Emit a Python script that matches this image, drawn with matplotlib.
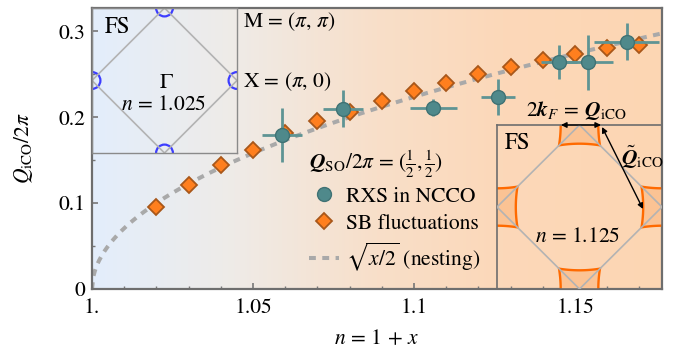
import numpy as np
import matplotlib
matplotlib.use("Agg")
import matplotlib.pyplot as plt
from matplotlib.colors import LinearSegmentedColormap
from matplotlib.lines import Line2D
from matplotlib.patches import Circle, Polygon

# ---------------- data ----------------
sb_n = [1.02, 1.03, 1.04, 1.05, 1.06, 1.07, 1.08, 1.09, 1.10, 1.11, 1.12, 1.13, 1.14, 1.15, 1.16, 1.17]
sb_q = [0.096, 0.121, 0.144, 0.162, 0.181, 0.195, 0.206, 0.219, 0.230, 0.240, 0.250, 0.258, 0.266, 0.274, 0.280, 0.284]

rxs_n = [1.059, 1.078, 1.106, 1.126, 1.145, 1.154, 1.166]
rxs_q = [0.179, 0.210, 0.211, 0.223, 0.264, 0.264, 0.288]
rxs_xerr = [0.0062, 0.0062, 0.0073, 0.0053, 0.0055, 0.0078, 0.0101]
rxs_yerr = [0.0316, 0.021, 0.0098, 0.021, 0.020, 0.032, 0.021]

xticks = [1.0, 1.05, 1.1, 1.15]
xticklabels = ["1.", "1.05", "1.1", "1.15"]
yticks = [0, 0.1, 0.2, 0.3]
yticklabels = ["0", "0.1", "0.2", "0.3"]
xlim = (1.0, 1.177)
ylim = (0.0, 0.327)

# ---------------- style ----------------
plt.rcParams['font.family'] = ['STIXGeneral', 'Liberation Serif', 'DejaVu Serif']
plt.rcParams['mathtext.fontset'] = 'custom'
plt.rcParams['mathtext.rm'] = 'STIXGeneral'
plt.rcParams['mathtext.it'] = 'STIXGeneral:italic'
plt.rcParams['mathtext.bf'] = 'STIXGeneral:italic:bold'
plt.rcParams['mathtext.fallback'] = 'stix'
plt.rcParams['font.size'] = 15

W, H = 684, 354
fig = plt.figure(figsize=(W / 100, H / 100), dpi=100)

def fx(px):
    return px / W

def fy(py):
    return 1 - py / H

ax = fig.add_axes([fx(92), fy(289), (662 - 92) / W, (289 - 8) / H])
ax.set_xlim(*xlim)
ax.set_ylim(*ylim)

# background gradient
cmap = LinearSegmentedColormap.from_list(
    "bg", [(0.0, "#e3eefc"), (0.25, "#efebe7"), (0.5, "#f8dfc9"),
           (0.72, "#fcd8b9"), (1.0, "#fdd6b3")])
grad = np.linspace(0, 1, 256)[None, :]
ax.imshow(grad, extent=[xlim[0], xlim[1], ylim[0], ylim[1]], aspect='auto',
          cmap=cmap, zorder=0, interpolation='bicubic')

# nesting curve sqrt(x/2)
xx = np.linspace(xlim[0], xlim[1], 400)
ax.plot(xx, np.sqrt((xx - 1) / 2), color='#a9a9a9', lw=2.9,
        dashes=(1.7, 1.6), zorder=2, solid_capstyle='butt')

# SB fluctuations
ax.plot(sb_n, sb_q, ls='none', marker='D', ms=8.0, mfc='#ff7f1e',
        mec='#a8571a', mew=1.3, zorder=3)

# RXS
ax.errorbar(rxs_n, rxs_q, xerr=rxs_xerr, yerr=rxs_yerr, fmt='o', ms=10,
            mfc='#4f898b', mec='#3f7274', mew=1.0, ecolor='#5e9494',
            elinewidth=2, capsize=0, zorder=4)

# ticks / spines
ax.set_xticks(xticks)
ax.set_xticklabels(xticklabels)
ax.set_yticks(yticks)
ax.set_yticklabels(yticklabels)
ax.set_xticks(np.arange(1.0, 1.1771, 0.01), minor=True)
ax.set_yticks([0.05, 0.15, 0.25], minor=True)
ax.tick_params(which='both', direction='in', color='#777777', top=False, right=False)
ax.tick_params(which='major', length=4, width=1.2, pad=5, labelsize=15.5)
ax.tick_params(axis='x', which='major', pad=7)
ax.tick_params(which='minor', length=2.5, width=1.0)
for s in ax.spines.values():
    s.set_color('#6e6e6e')
    s.set_linewidth(1.6)
    s.set_zorder(10)

ax.set_xlabel(r'$n\, =\, 1\, +\, x$', fontsize=15.5)
ax.xaxis.set_label_coords(0.5, -0.145)
ax.set_ylabel(r'$Q_{\rm iCO}/2\pi$', fontsize=15.5)
ax.yaxis.set_label_coords(-0.1, 0.5)

# legend
handles = [
    Line2D([], [], ls='none', marker='o', ms=10, mfc='#4f898b', mec='#3f7274', mew=1.0),
    Line2D([], [], ls='none', marker='D', ms=8.0, mfc='#ff7f1e', mec='#a8571a', mew=1.3),
    Line2D([], [], color='#a9a9a9', lw=2.9, dashes=(1.7, 1.6)),
]
labels = ['RXS in NCCO', 'SB fluctuations', r'$\sqrt{x/2}$ (nesting)']
leg = ax.legend(handles, labels,
                title=r'$\mathbf{Q}_{\rm SO}/2\pi\, =\, (\frac{1}{2}, \frac{1}{2})$',
                loc='upper left', bbox_to_anchor=(fx(298), fy(138)),
                bbox_transform=fig.transFigure, frameon=False, fontsize=15.5,
                title_fontsize=15.5, handlelength=1.4, handletextpad=0.35,
                labelspacing=0.32, borderpad=0, alignment='left')
leg.set_zorder(6)

# ---------------- inset 1 (n = 1.025) ----------------
in1 = fig.add_axes([fx(92), fy(153), 145 / W, 145 / H])
in1.set_facecolor('none')
in1.set_xlim(0, 1)
in1.set_ylim(0, 1)
in1.set_xticks([])
in1.set_yticks([])
for s in in1.spines.values():
    s.set_color('#8a8a8a')
    s.set_linewidth(1.0)
in1.plot([0.5, 0, 0.5, 1, 0.5], [1, 0.5, 0, 0.5, 1], color='#b3b3b3', lw=1.2)
for (cx, cy) in [(0.5, 1), (0, 0.5), (1, 0.5), (0.5, 0)]:
    in1.add_patch(Circle((cx, cy), 0.058, fill=False, ec='#3d3dff', lw=1.6, clip_on=True))

# ---------------- inset 2 (n = 1.125) ----------------
in2 = fig.add_axes([fx(497), fy(289), 165 / W, 164 / H])
in2.set_facecolor('none')
in2.set_xlim(0, 1)
in2.set_ylim(0, 1)
in2.set_xticks([])
in2.set_yticks([])
for s in in2.spines.values():
    s.set_color('#6e6e6e')
    s.set_linewidth(1.2)

def pocket(cx, cy, a=0.124, b=0.010):
    t = np.linspace(-a, a, 30)
    bow = b * (1 - (t / a) ** 2)
    pts = []
    pts += list(zip(cx + t, cy - a + bow))
    pts += list(zip(cx + a - bow, cy + t))
    pts += list(zip(cx - t, cy + a - bow))
    pts += list(zip(cx - a + bow, cy - t))
    return np.array(pts)

for (cx, cy) in [(0.5, 1), (0, 0.5), (1, 0.5), (0.5, 0)]:
    in2.add_patch(Polygon(pocket(cx, cy), closed=True, fc='#fbc394', ec='#ff6a00',
                          lw=1.7, clip_on=True, zorder=2))
in2.plot([0.5, 0, 0.5, 1, 0.5], [1, 0.5, 0, 0.5, 1], color='#b3b3b3', lw=1.2, zorder=3)

# arrows
arrow_kw = dict(arrowstyle='<|-|>', color='black', lw=1.0, mutation_scale=8,
                shrinkA=0, shrinkB=0)
in2.annotate('', xy=(601, H - 125), xytext=(561, H - 125), xycoords='figure pixels',
             textcoords='figure pixels', arrowprops=arrow_kw, annotation_clip=False)
in2.annotate('', xy=(643, H - 209), xytext=(602, H - 127), xycoords='figure pixels',
             textcoords='figure pixels', arrowprops=arrow_kw, annotation_clip=False)

# ---------------- texts ----------------
fig.text(fx(105), fy(27), 'FS', ha='left', va='center', fontsize=16.5)
fig.text(fx(166), fy(83), r'$\Gamma$', ha='center', va='center', fontsize=16)
fig.text(fx(164), fy(105), r'$n$ = 1.025', ha='center', va='center', fontsize=15.5)
fig.text(fx(243), fy(22), r'M = ($\pi$, $\pi$)', ha='left', va='center', fontsize=15.5)
fig.text(fx(243), fy(82), r'X = ($\pi$, 0)', ha='left', va='center', fontsize=15.5)
fig.text(fx(576), fy(110), r'$2\mathbf{k}_F\, =\, \mathbf{Q}_{\rm iCO}$', ha='center', va='center', fontsize=15.5)
fig.text(fx(505), fy(143), 'FS', ha='left', va='center', fontsize=16.5)
fig.text(fx(621), fy(157), r'$\tilde{\mathbf{Q}}_{\rm iCO}$', ha='left', va='center', fontsize=15.5)
fig.text(fx(578), fy(237), r'$n$ = 1.125', ha='center', va='center', fontsize=15.5)

fig.savefig('out.png', dpi=100)
